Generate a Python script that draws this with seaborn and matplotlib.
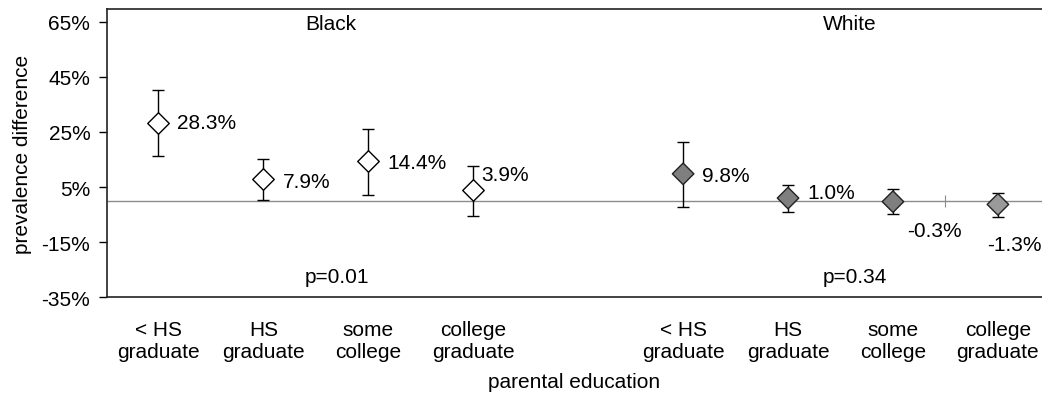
import numpy as np
import pandas as pd
import matplotlib
matplotlib.use("Agg")
import matplotlib.pyplot as plt
import seaborn as sns

# Prevalence difference by parental education, stratified by race
education = ["< HS\ngraduate", "HS\ngraduate", "some\ncollege", "college\ngraduate"]
black_est = [28.3, 7.9, 14.4, 3.9]
black_lo = [16.1, 0.3, 2.2, -5.4]
black_hi = [40.1, 15.2, 26.0, 12.7]
white_est = [9.8, 1.0, -0.3, -1.3]
white_lo = [-2.4, -3.9, -4.9, -5.8]
white_hi = [21.4, 5.6, 4.2, 2.7]
groups = ["Black", "White"]
p_values = ["p=0.01", "p=0.34"]
y_ticks = [-35, -15, 5, 25, 45, 65]

sns.set_theme(style="white")
plt.rcParams["font.family"] = ["Liberation Sans", "DejaVu Sans"]
plt.rcParams["text.color"] = "black"
plt.rcParams["axes.labelcolor"] = "black"
plt.rcParams["xtick.color"] = "black"
plt.rcParams["ytick.color"] = "black"
FS = 15

# one empty slot separates the two race groups on the category axis
pos_black = np.arange(4)
pos_white = np.arange(4) + 5
df = pd.DataFrame({
    "pos": np.concatenate([pos_black, pos_white]),
    "est": black_est + white_est,
    "lo": black_lo + white_lo,
    "hi": black_hi + white_hi,
    "race": ["Black"] * 4 + ["White"] * 4,
    "edu": education * 2,
})

fig = plt.figure(figsize=(10.42, 4.02), dpi=100)
ax = fig.add_axes([0.1027, 0.258, 0.8973, 0.717])

# zero reference line (category axis crossing)
ax.axhline(0, color="#8c8c8c", lw=1.0, zorder=1)
ax.plot([(pos_white[2] + pos_white[3]) / 2], [0], marker="|", ms=8.5,
        mew=0.8, color="#8c8c8c", zorder=1)

# confidence intervals
ax.errorbar(df["pos"], df["est"],
            yerr=[df["est"] - df["lo"], df["hi"] - df["est"]],
            fmt="none", ecolor="black", elinewidth=1.0, capsize=4.2,
            capthick=1.0, zorder=2)

white_face = ["#7f7f7f", "#7f7f7f", "#7f7f7f", "#9a9a9a"]
sns.scatterplot(data=df[df["race"] == "Black"], x="pos", y="est", ax=ax,
                marker="D", s=120, color="white", edgecolor="black",
                linewidth=1.0, zorder=3, legend=False)
sns.scatterplot(data=df[df["race"] == "White"], x="pos", y="est", ax=ax,
                marker="D", s=120, hue="edu", palette=white_face,
                edgecolor="#222222", linewidth=1.0, zorder=3, legend=False)

# value labels
offsets = [(19, 0), (20, -2), (19, -1), (8, 16),
           (19, -2), (19, 6), (14, -29), (-11, -40)]
for (x, y), (dx, dy) in zip(zip(df["pos"], df["est"]), offsets):
    ax.annotate(f"{y:.1f}%", (x, y), xytext=(dx, dy),
                textcoords="offset pixels", ha="left", va="center",
                fontsize=FS, color="black")

# group titles and trend p-values
for g, c in zip(groups, [1.64, 6.59]):
    ax.text(c, 64.2, g, ha="center", va="center", fontsize=FS)
for p, c in zip(p_values, [1.70, 6.64]):
    ax.text(c, -27.3, p, ha="center", va="center", fontsize=FS)

ax.set_xlim(-0.49, 8.42)
ax.set_ylim(-35, 69.6)
ax.set_yticks(y_ticks)
ax.set_yticklabels([f"{t}%" for t in y_ticks], fontsize=FS)
ax.set_xticks(df["pos"])
ax.set_xticklabels(df["edu"], fontsize=FS, linespacing=1.2)
ax.tick_params(axis="x", length=0, pad=16)
ax.tick_params(axis="y", direction="out", length=6, width=1.0,
               color="black", pad=6, left=True)
ax.set_ylabel("prevalence difference", fontsize=FS, labelpad=7)
ax.set_xlabel("parental education", fontsize=FS, labelpad=8)

for side in ["left", "bottom", "top"]:
    ax.spines[side].set_color("#222222")
    ax.spines[side].set_linewidth(1.2)
ax.spines["right"].set_visible(False)
ax.grid(False)

fig.savefig("out.png", dpi=100)
